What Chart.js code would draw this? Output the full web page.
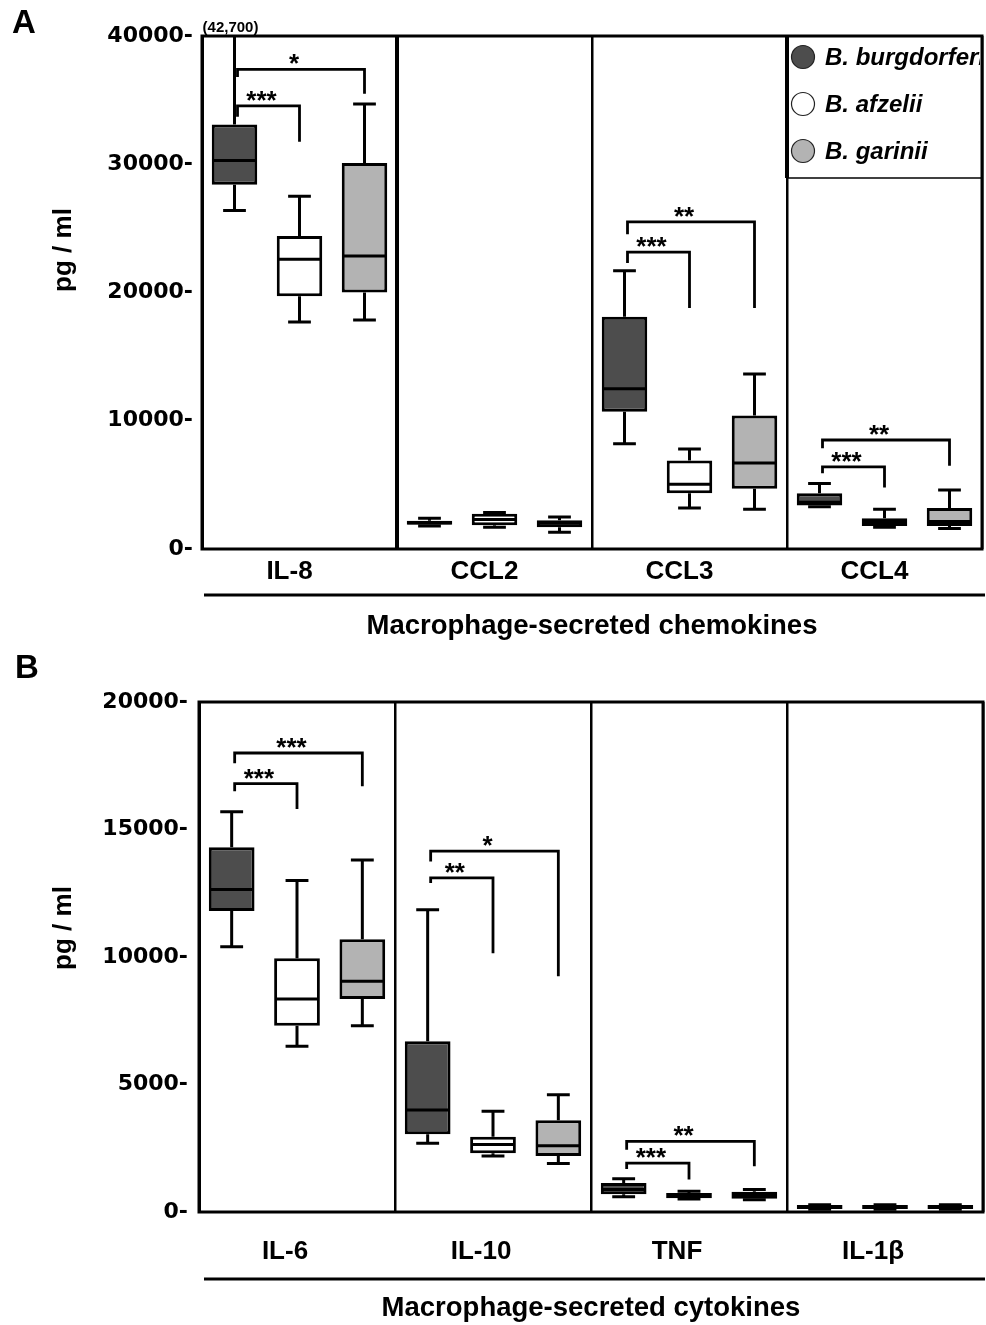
<!DOCTYPE html>
<html>
<head>
<meta charset="utf-8">
<script src="https://cdn.jsdelivr.net/npm/chart.js@4.4.0/dist/chart.umd.min.js"></script>
<style>
body { margin: 0; background: #fff; }
#page { position: relative; width: 986px; height: 1325px; background: #fff; }
canvas { position: absolute; left: 0; }
#chartA { top: 0; }
#chartB { top: 650px; }
</style>
</head>
<body>
<div id="page">
<canvas id="chartA" width="986" height="650"></canvas>
<canvas id="chartB" width="986" height="675"></canvas>
</div>
<script>
var species = ['B. burgdorferi', 'B. afzelii', 'B. garinii'];
var speciesColors = ['#4d4d4d', '#ffffff', '#b3b3b3'];

// panel A, chemokines. each entry = [min, q1, median, q3, max]
var chemokines = ['IL-8', 'CCL2', 'CCL3', 'CCL4'];
var chemoTicks = [0, 10000, 20000, 30000, 40000];
var chemoBurg = [[26400, 28400, 30300, 33100, 42700], [1800, 1900, 2050, 2200, 2400], [8200, 10700, 12500, 18100, 21700], [3300, 3400, 3650, 4350, 5100]];
var chemoAfz = [[17700, 19700, 22600, 24400, 27500], [1700, 1850, 2300, 2750, 2850], [3200, 4350, 5050, 6900, 7800], [1700, 1800, 2150, 2400, 3100]];
var chemoGar = [[17850, 20000, 22850, 30100, 34700], [1300, 1700, 2000, 2250, 2500], [3100, 4700, 6700, 10400, 13650], [1600, 1800, 2150, 3200, 4600]];
// significance: category, from species, to species, bar level, left leg end, right leg end, stars
var chemoSig = [
  [0, 0, 1, 34550, 33700, 31750, '***'],
  [0, 0, 2, 37400, 36800, 35500, '*'],
  [2, 0, 1, 23150, 22300, 18800, '***'],
  [2, 0, 2, 25500, 24550, 18800, '**'],
  [3, 0, 1, 6400, 5900, 4800, '***'],
  [3, 0, 2, 8500, 7850, 6500, '**']
];

// panel B, cytokines
var cytokines = ['IL-6', 'IL-10', 'TNF', 'IL-1β'];
var cytoTicks = [0, 5000, 10000, 15000, 20000];
var cytoBurg = [[10400, 11800, 12650, 14300, 15700], [2700, 3050, 4000, 6700, 11850], [600, 700, 880, 1140, 1300], [110, 120, 200, 270, 280]];
var cytoAfz = [[6500, 7300, 8350, 9950, 13000], [2200, 2300, 2650, 2950, 3950], [510, 540, 640, 750, 810], [110, 120, 200, 270, 280]];
var cytoGar = [[7300, 8350, 9050, 10700, 13800], [1900, 2200, 2600, 3600, 4600], [480, 520, 650, 790, 880], [110, 120, 200, 270, 280]];
var cytoSig = [
  [0, 0, 1, 16800, 16500, 15800, '***'],
  [0, 0, 2, 18000, 17600, 16700, '***'],
  [1, 0, 1, 13100, 12900, 10150, '**'],
  [1, 0, 2, 14150, 13750, 9250, '*'],
  [2, 0, 1, 1920, 1690, 1270, '***'],
  [2, 0, 2, 2770, 2440, 1790, '**']
];

var SANS = '"Liberation Sans", Arial, sans-serif';

function makeDatasets(groups) {
  return groups.map(function(g, i) {
    return {
      label: species[i],
      data: g.map(function(b) { return [b[1], b[3]]; }),
      stats: g,
      backgroundColor: speciesColors[i],
      borderColor: '#000',
      borderWidth: 3,
      borderSkipped: false,
      barPercentage: 0.7,
      categoryPercentage: 1
    };
  });
}

// whiskers, medians and significance brackets
var boxPlugin = {
  id: 'boxes',
  afterDatasetsDraw: function(chart, args, opts) {
    var ctx = chart.ctx, y = chart.scales.y, area = chart.chartArea;
    ctx.save();
    ctx.beginPath();
    ctx.rect(area.left, area.top, area.right - area.left, area.bottom - area.top);
    ctx.clip();
    ctx.strokeStyle = '#000';
    ctx.lineWidth = 3;
    chart.data.datasets.forEach(function(ds, di) {
      var meta = chart.getDatasetMeta(di);
      meta.data.forEach(function(bar, i) {
        var s = ds.stats[i], half = bar.width / 2, cap = bar.width / 4;
        var pLo = y.getPixelForValue(s[0]), pQ1 = y.getPixelForValue(s[1]);
        var pMed = y.getPixelForValue(s[2]), pQ3 = y.getPixelForValue(s[3]);
        var pHi = y.getPixelForValue(s[4]);
        ctx.beginPath();
        ctx.moveTo(bar.x - half + 1, pMed); ctx.lineTo(bar.x + half - 1, pMed);
        ctx.moveTo(bar.x, pQ3); ctx.lineTo(bar.x, pHi);
        ctx.moveTo(bar.x - cap, pHi); ctx.lineTo(bar.x + cap, pHi);
        ctx.moveTo(bar.x, pQ1); ctx.lineTo(bar.x, pLo);
        ctx.moveTo(bar.x - cap, pLo); ctx.lineTo(bar.x + cap, pLo);
        ctx.stroke();
      });
    });
    ctx.restore();

    ctx.save();
    // values beyond the axis
    chart.data.datasets.forEach(function(ds, di) {
      var meta = chart.getDatasetMeta(di);
      meta.data.forEach(function(bar, i) {
        if (ds.stats[i][4] > y.max) {
          ctx.font = 'bold 15px ' + SANS;
          ctx.fillStyle = '#000';
          ctx.textAlign = 'center';
          ctx.textBaseline = 'alphabetic';
          ctx.fillText('(' + ds.stats[i][4].toLocaleString('en-US') + ')', bar.x - 4, area.top - 4);
        }
      });
    });
    // brackets
    ctx.strokeStyle = '#000';
    ctx.lineWidth = 2.8;
    ctx.fillStyle = '#000';
    ctx.font = 'bold 26px ' + SANS;
    ctx.textAlign = 'center';
    ctx.textBaseline = 'alphabetic';
    (opts.sig || []).forEach(function(b) {
      var a = chart.getDatasetMeta(b[1]).data[b[0]];
      var c = chart.getDatasetMeta(b[2]).data[b[0]];
      var x1 = a.x + 3, x2 = c.x;
      var yb = y.getPixelForValue(b[3]);
      ctx.beginPath();
      ctx.moveTo(x1, y.getPixelForValue(b[4]));
      ctx.lineTo(x1, yb);
      ctx.lineTo(x2, yb);
      ctx.lineTo(x2, y.getPixelForValue(b[5]));
      ctx.stroke();
      ctx.fillText(b[6], (x1 + x2) / 2 - 7, yb + 3);
    });
    ctx.restore();
  }
};

// frame, underline, panel letter, y title and legend box
var framePlugin = {
  id: 'frame',
  afterDraw: function(chart, args, opts) {
    var ctx = chart.ctx, area = chart.chartArea;
    ctx.save();
    ctx.strokeStyle = '#000';
    ctx.lineWidth = 3;
    ctx.strokeRect(area.left, area.top, area.right - area.left, area.bottom - area.top);

    ctx.lineWidth = 3;
    ctx.beginPath();
    ctx.moveTo(204, area.bottom + opts.underline);
    ctx.lineTo(985, area.bottom + opts.underline);
    ctx.stroke();

    ctx.fillStyle = '#000';
    ctx.font = 'bold 33px ' + SANS;
    ctx.textAlign = 'left';
    ctx.textBaseline = 'alphabetic';
    ctx.fillText(opts.letter, opts.letterX, opts.letterY);

    ctx.save();
    ctx.translate(71, opts.titleY);
    ctx.rotate(-Math.PI / 2);
    ctx.font = 'bold 26px ' + SANS;
    ctx.textAlign = 'center';
    ctx.fillText('pg / ml', 0, 0);
    ctx.restore();

    if (opts.legend) {
      var left = area.left + (area.right - area.left) * 3 / 4;
      var top = area.top, bottom = area.top + 142;
      ctx.fillStyle = '#fff';
      ctx.fillRect(left, top + 2, area.right - left - 2, bottom - top - 2);
      ctx.lineWidth = 4;
      ctx.beginPath();
      ctx.moveTo(left, top); ctx.lineTo(left, bottom);
      ctx.stroke();
      ctx.lineWidth = 1.5;
      ctx.beginPath();
      ctx.moveTo(left, bottom); ctx.lineTo(area.right, bottom);
      ctx.stroke();
      ctx.save();
      ctx.beginPath();
      ctx.rect(left, top, area.right - left - 2, bottom - top);
      ctx.clip();
      chart.data.datasets.forEach(function(ds, i) {
        var cy = top + 21 + i * 47;
        ctx.beginPath();
        ctx.arc(left + 16, cy, 11.5, 0, Math.PI * 2);
        ctx.fillStyle = ds.backgroundColor;
        ctx.fill();
        ctx.lineWidth = 1.2;
        ctx.strokeStyle = '#222';
        ctx.stroke();
        ctx.fillStyle = '#000';
        ctx.font = 'italic bold 24px ' + SANS;
        ctx.textAlign = 'left';
        ctx.fillText(ds.label, left + 38, cy + 8);
      });
      ctx.restore();
    }
    ctx.restore();
  }
};

function makeChart(id, labels, groups, ticks, sig, cfg) {
  var dividers = cfg.dividers;
  return new Chart(document.getElementById(id), {
    type: 'bar',
    data: { labels: labels, datasets: makeDatasets(groups) },
    plugins: [boxPlugin, framePlugin],
    options: {
      responsive: false,
      animation: false,
      layout: { padding: { top: cfg.top, right: cfg.right, left: 0, bottom: 0 } },
      scales: {
        x: {
          offset: true,
          grid: {
            offset: true,
            drawTicks: false,
            color: '#000',
            lineWidth: function(c) { return dividers[c.index] !== undefined ? dividers[c.index] : 2.5; }
          },
          border: { display: false },
          ticks: {
            color: '#000',
            padding: cfg.tickPad,
            labelOffset: cfg.labelOffset,
            font: { family: SANS, size: 26, weight: 'bold', lineHeight: 1.2 }
          },
          title: {
            display: true,
            text: cfg.title,
            color: '#000',
            padding: { top: 0, bottom: cfg.titlePad },
            font: { family: SANS, size: 27.5, weight: 'bold', lineHeight: 1.2 }
          },
          afterFit: function(s) { s.height = cfg.xHeight; }
        },
        y: {
          min: ticks[0],
          max: ticks[ticks.length - 1],
          grid: { display: false, drawTicks: false },
          border: { display: false },
          afterBuildTicks: function(s) { s.ticks = ticks.map(function(v) { return { value: v }; }); },
          ticks: {
            color: '#000',
            padding: cfg.yPad,
            font: { family: '"DejaVu Sans", sans-serif', size: 22, weight: 'bold' },
            callback: function(v) { return v + '-'; }
          },
          afterFit: function(s) { s.width = cfg.yWidth; }
        }
      },
      plugins: {
        legend: { display: false },
        tooltip: { enabled: false },
        boxes: { sig: sig },
        frame: cfg.frame
      }
    }
  });
}

makeChart('chartA', chemokines, [chemoBurg, chemoAfz, chemoGar], chemoTicks, chemoSig, {
  top: 36, right: 4, yWidth: 202, yPad: 9, xHeight: 101, tickPad: 7, labelOffset: -10,
  titlePad: 7, title: 'Macrophage-secreted chemokines', dividers: [3, 4, 2.5, 2.5, 3],
  frame: { letter: 'A', letterX: 12, letterY: 33, titleY: 250, underline: 46, legend: true }
});

makeChart('chartB', cytokines, [cytoBurg, cytoAfz, cytoGar], cytoTicks, cytoSig, {
  top: 52, right: 3, yWidth: 199, yPad: 11, xHeight: 113, tickPad: 24, labelOffset: -12,
  titlePad: 0, title: 'Macrophage-secreted cytokines', dividers: [3, 2.5, 2.5, 2.5, 3],
  frame: { letter: 'B', letterX: 15, letterY: 28, titleY: 278, underline: 67, legend: false }
});
</script>
</body>
</html>
